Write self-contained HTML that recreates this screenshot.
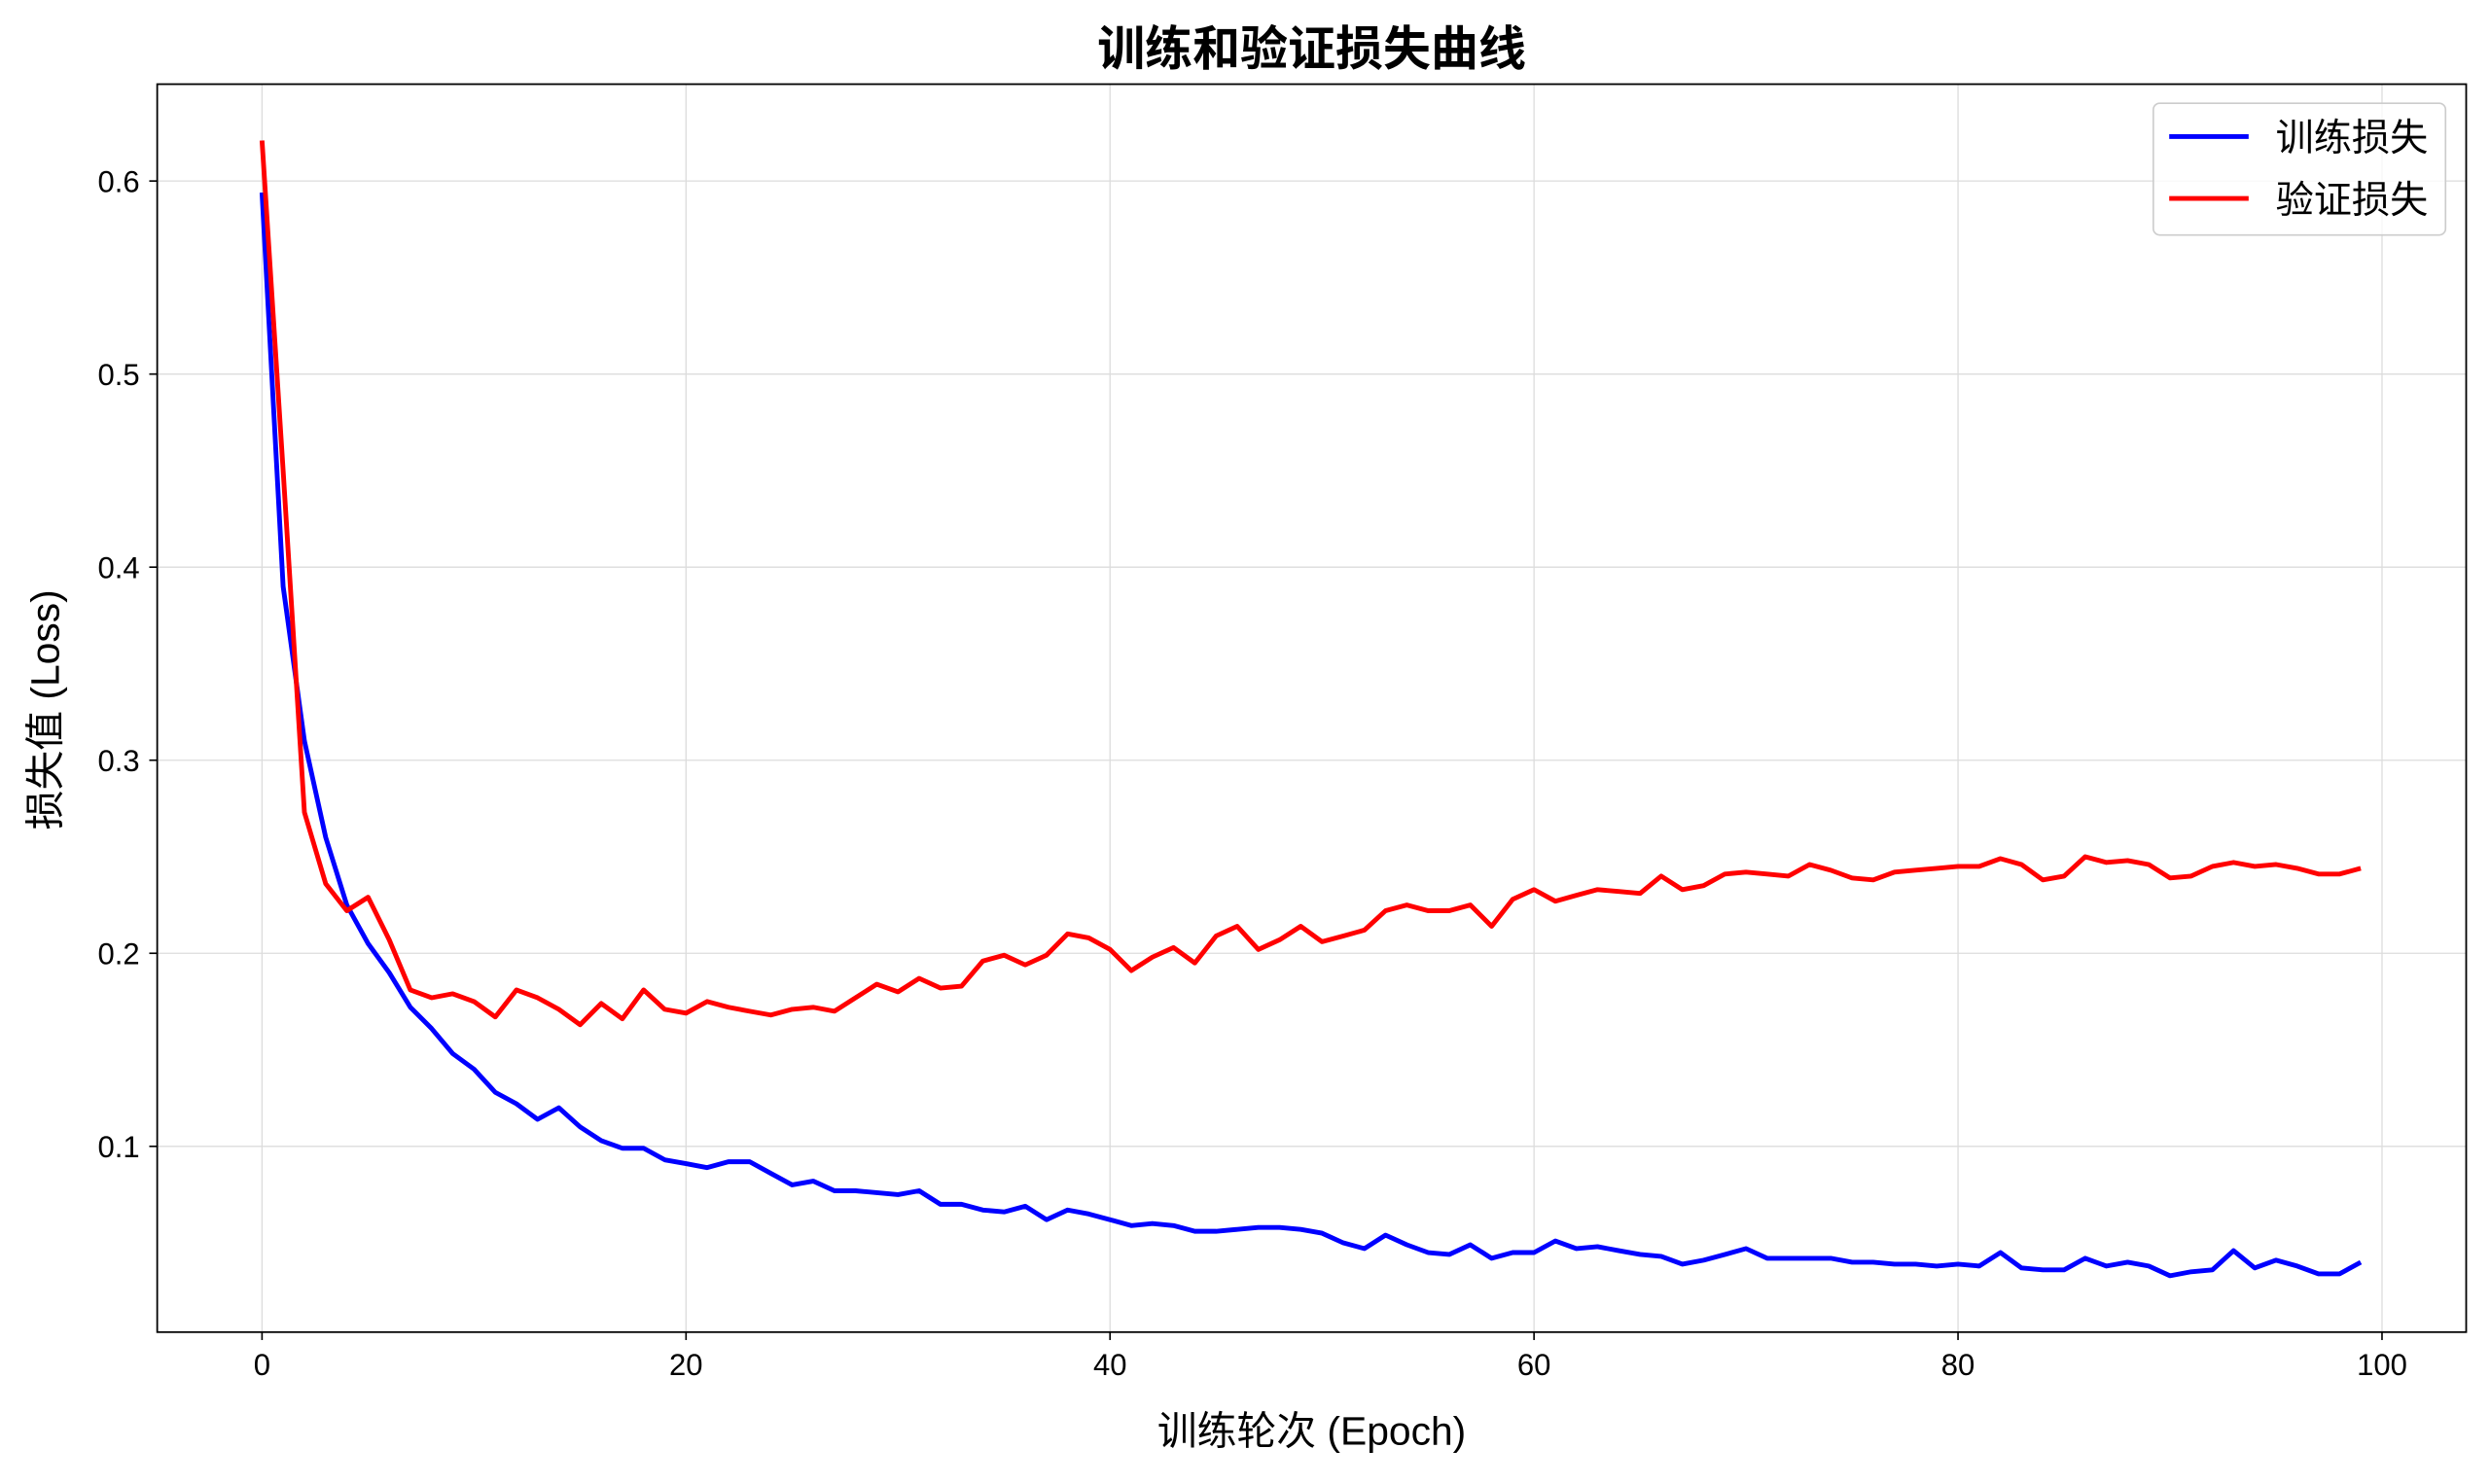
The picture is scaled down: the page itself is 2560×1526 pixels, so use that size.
<!DOCTYPE html>
<html><head><meta charset="utf-8"><style>
html,body{margin:0;padding:0;background:#fff;}
svg text{font-family:"Liberation Sans","Noto Sans CJK SC",sans-serif;fill:#000;}
</style></head><body>
<svg id="s" xmlns="http://www.w3.org/2000/svg" width="2560" height="1521" viewBox="0 0 1568 931.6">
<rect width="1568" height="931.6" fill="#fff"/>
<g id="grid" stroke="#dcdcdc" stroke-width="0.8"></g>
<g id="lines" fill="none" stroke-width="3" stroke-linejoin="round"></g>
<rect x="99" y="53" width="1454" height="786" fill="none" stroke="#000" stroke-width="1.1"/>
<g id="ticks"></g>
<text x="826" y="41" font-size="30" font-weight="bold" text-anchor="middle">训练和验证损失曲线</text>
<text x="826" y="910" font-size="25" text-anchor="middle">训练轮次 (Epoch)</text>
<text transform="translate(37,447) rotate(-90)" font-size="25" text-anchor="middle">损失值 (Loss)</text>
<rect x="1356" y="65" width="184" height="83" rx="4" fill="#fff" fill-opacity="0.8" stroke="#ccc"/>
<line x1="1366" y1="86" x2="1416" y2="86" stroke="#00f" stroke-width="3"/>
<line x1="1366" y1="125" x2="1416" y2="125" stroke="#f00" stroke-width="3"/>
<text x="1433" y="95" font-size="24">训练损失</text>
<text x="1433" y="134" font-size="24">验证损失</text>
</svg>
<script>
var tr=[0.594,0.39,0.31,0.26,0.225,0.205,0.19,0.172,0.161,0.148,0.14,0.128,0.122,0.114,0.12,0.11,0.103,0.099,0.099,0.093,0.091,0.089,0.092,0.092,0.086,0.08,0.082,0.077,0.077,0.076,0.075,0.077,0.070,0.070,0.067,0.066,0.069,0.062,0.067,0.065,0.062,0.059,0.060,0.059,0.056,0.056,0.057,0.058,0.058,0.057,0.055,0.050,0.047,0.054,0.049,0.045,0.044,0.049,0.042,0.045,0.045,0.051,0.047,0.048,0.046,0.044,0.043,0.039,0.041,0.044,0.047,0.042,0.042,0.042,0.042,0.040,0.040,0.039,0.039,0.038,0.039,0.038,0.045,0.037,0.036,0.036,0.042,0.038,0.040,0.038,0.033,0.035,0.036,0.046,0.037,0.041,0.038,0.034,0.034,0.040];
var va=[0.621,0.45,0.273,0.236,0.222,0.229,0.207,0.181,0.177,0.179,0.175,0.167,0.181,0.177,0.171,0.163,0.174,0.166,0.181,0.171,0.169,0.175,0.172,0.170,0.168,0.171,0.172,0.170,0.177,0.184,0.180,0.187,0.182,0.183,0.196,0.199,0.194,0.199,0.210,0.208,0.202,0.191,0.198,0.203,0.195,0.209,0.214,0.202,0.207,0.214,0.206,0.209,0.212,0.222,0.225,0.222,0.222,0.225,0.214,0.228,0.233,0.227,0.230,0.233,0.232,0.231,0.240,0.233,0.235,0.241,0.242,0.241,0.240,0.246,0.243,0.239,0.238,0.242,0.243,0.244,0.245,0.245,0.249,0.246,0.238,0.240,0.250,0.247,0.248,0.246,0.239,0.240,0.245,0.247,0.245,0.246,0.244,0.241,0.241,0.244];
function X(e){return 165+e*13.35;}function Y(v){return 722-(v-0.1)*1216;}
var NS="http://www.w3.org/2000/svg";
function el(p,t,a,txt){var e=document.createElementNS(NS,t);for(var k in a)e.setAttribute(k,a[k]);if(txt)e.textContent=txt;document.getElementById(p).appendChild(e);}
for(var i=0;i<=5;i++){var x=X(i*20);el('grid','line',{x1:x,x2:x,y1:53,y2:839});el('ticks','line',{x1:x,x2:x,y1:839,y2:844,stroke:'#000'});el('ticks','text',{x:x,y:866,'font-size':19,'text-anchor':'middle'},String(i*20));}
for(var j=1;j<=6;j++){var y=Y(j/10);el('grid','line',{x1:99,x2:1553,y1:y,y2:y});el('ticks','line',{x1:94,x2:99,y1:y,y2:y,stroke:'#000'});el('ticks','text',{x:88,y:y+7,'font-size':19,'text-anchor':'end'},(j/10).toFixed(1));}
function pts(a){return a.map(function(v,i){return X(i).toFixed(1)+','+Y(v).toFixed(1);}).join(' ');}
el('lines','polyline',{points:pts(tr),stroke:'#00f'});
el('lines','polyline',{points:pts(va),stroke:'#f00'});
</script>
</body></html>
